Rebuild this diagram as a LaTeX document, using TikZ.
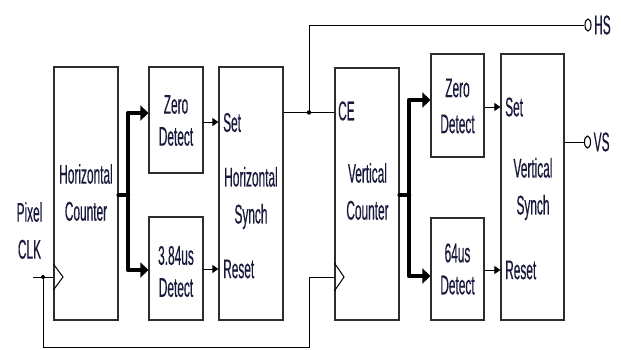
\documentclass[tikz,border=0pt]{standalone}
\usepackage{fontspec}
\setmainfont[FakeStretch=0.44,FakeBold=0.4]{Liberation Sans}
\usetikzlibrary{arrows.meta,shapes.geometric}
\definecolor{txt}{RGB}{25,25,60}
\definecolor{edge}{RGB}{45,45,45}
\tikzset{
 blk/.style={draw=edge, line width=1.2pt, inner sep=0pt},
 lbl/.style={inner sep=0pt, text=txt, font=\fontsize{27}{37}\selectfont, align=center},
 lbls/.style={inner sep=0pt, text=txt, font=\fontsize{27}{32}\selectfont, align=center},
 sig/.style={line width=1pt, -{Triangle[length=6pt,width=8pt]}},
 bus/.style={line width=4.5pt, line join=round, -{Triangle[length=8pt,width=15pt]}},
 busline/.style={line width=4.5pt, line join=round, line cap=round},
 wire/.style={line width=1pt},
 term/.style={ellipse, line width=1.1pt, draw, fill=white, inner sep=0pt, minimum width=6pt, minimum height=12pt},
}
\begin{document}
\begin{tikzpicture}[x=1pt,y=-1pt]
\useasboundingbox (0,0) rectangle (621,349);
% boxes
\node[blk, minimum width=64pt, minimum height=253pt] (hc) at (86,193.5) {};
\node[lbl] (hct) at (86,192.5) {Horizontal\\Counter};
\node[blk, minimum width=54pt, minimum height=106pt] (hz) at (176,120) {};
\node[lbls] (hzt) at (176,120.5) {Zero\\Detect};
\node[blk, minimum width=54pt, minimum height=103pt] (hd) at (176,268.5) {};
\node[lbls] (hdt) at (176,271.5) {3.84us\\Detect};
\node[blk, minimum width=64pt, minimum height=253pt] (hs) at (251,193.5) {};
\node[lbl] (hst) at (251,198) {Horizontal\\Synch};
\node[lbl, anchor=west] (hset) at (223,122.5) {Set};
\node[lbl, anchor=west] (hres) at (223,269) {Reset};

\node[blk, minimum width=64pt, minimum height=252pt] (vc) at (367,194) {};
\node[lbl] (vct) at (367.5,191.5) {Vertical\\Counter};
\node[lbl, anchor=west] (ce) at (338,111) {CE};
\node[blk, minimum width=53pt, minimum height=103pt] (vz) at (457.5,105.5) {};
\node[lbl, font=\fontsize{27}{36}\selectfont] (vzt) at (457.5,106) {Zero\\Detect};
\node[blk, minimum width=53pt, minimum height=102pt] (vd) at (457.5,269) {};
\node[lbls] (vdt) at (457.5,269) {64us\\Detect};
\node[blk, minimum width=63pt, minimum height=266pt] (vs) at (532.5,187) {};
\node[lbl] (vst) at (533,189) {Vertical\\Synch};
\node[lbl, anchor=west] (vset) at (505,107) {Set};
\node[lbl, anchor=west] (vres) at (505,270) {Reset};

\node[lbl] (pix) at (29.5,230.5) {Pixel\\CLK};

% horizontal bus
\coordinate (hb) at (128,195);
\draw[busline] (hc.east |- hb) -- (hb);
\draw[bus] (hb) |- (hz.west |- 0,113);
\draw[bus] (hb) |- (hd.west |- 0,270);
% vertical bus
\coordinate (vb) at (409,195);
\draw[busline] (vc.east |- vb) -- (vb);
\draw[bus] (vb) |- (vz.west |- 0,100);
\draw[bus] (vb) |- (vd.west |- 0,276);

% thin arrows
\draw[sig] (hz.east |- 0,122) -- (hs.west |- 0,122);
\draw[sig] (hd.east |- 0,269) -- (hs.west |- 0,269);
\draw[sig] (vz.east |- 0,107) -- (vs.west |- 0,107);
\draw[sig] (vd.east |- 0,270) -- (vs.west |- 0,270);

% HS line
\coordinate (hj) at (309,112.5);
\draw[wire] (hs.east |- hj) -- (vc.west |- hj);
\fill (hj) circle (2.2pt);
\node[term] (hso) at (588,25) {};
\draw[wire] (hj) |- (hso.west);
\node[lbl, anchor=west] (hsl) at (594,25) {HS};

% VS line
\node[term] (vso) at (587.5,142) {};
\draw[wire] (vs.east |- vso) -- (vso.west);
\node[lbl, anchor=west] (vsl) at (593.5,142) {VS};

% clock
\coordinate (clkin) at (33,277);
\coordinate (cj) at (43,277);
\coordinate (cb) at (309,347.5);
\draw[wire] (clkin) -- (hc.west |- clkin);
\fill (cj) circle (2pt);
\draw[wire] (cj) |- (cb) |- (vc.west |- clkin);
% clock triangles
\draw[wire] (hc.west |- 0,264) -- (63,277) -- (hc.west |- 0,290);
\draw[wire] (vc.west |- 0,263) -- (344,277) -- (vc.west |- 0,291);
\end{tikzpicture}
\end{document}
